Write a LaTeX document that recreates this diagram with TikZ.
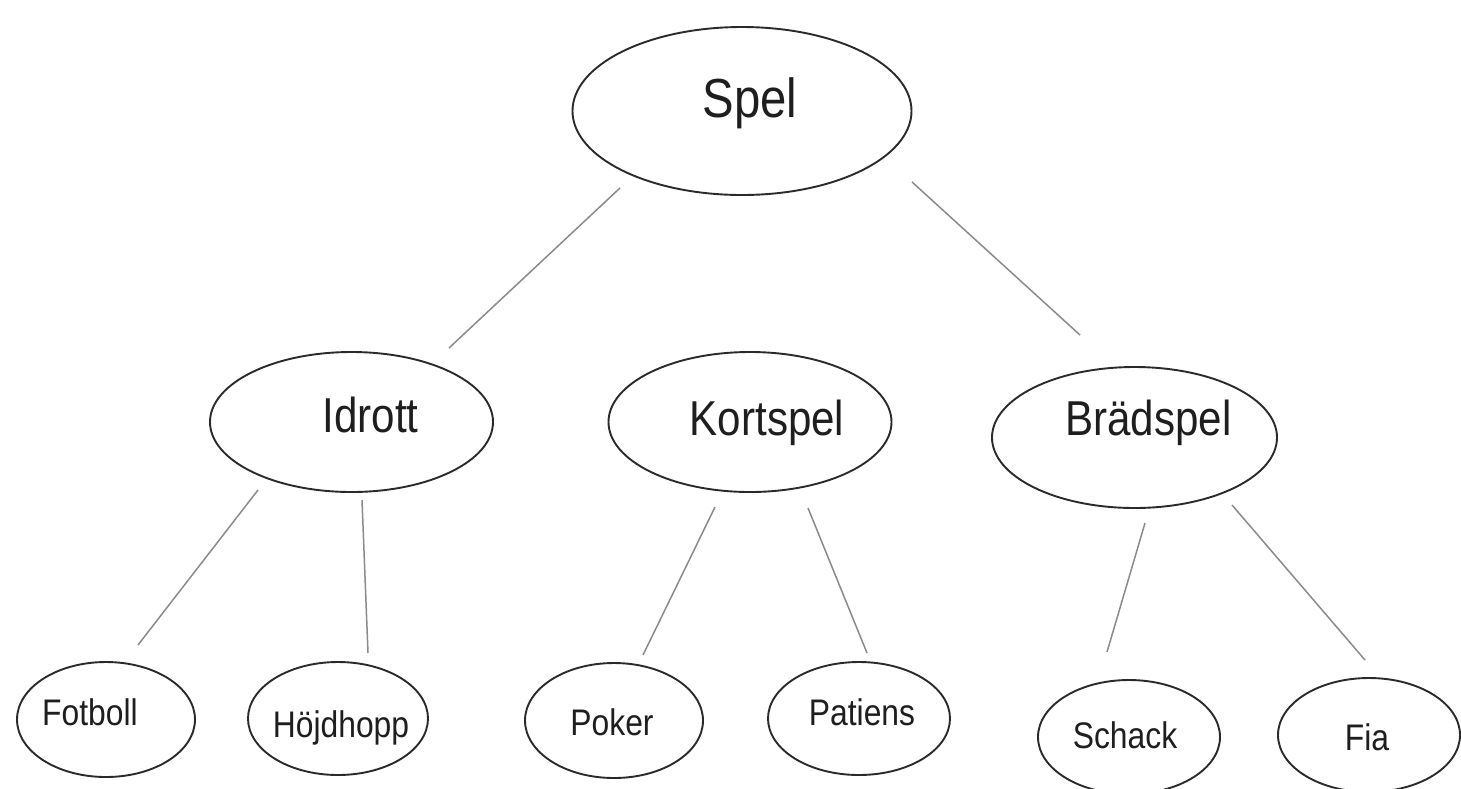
\documentclass[tikz,border=0pt]{standalone}
\usepackage{fontspec}
\setmainfont{Liberation Sans}[FakeStretch=0.86]
\usetikzlibrary{shapes.geometric}
\definecolor{outl}{HTML}{2A2A2A}
\definecolor{conn}{HTML}{8A8A8A}
\definecolor{txt}{HTML}{1E1E1E}
\tikzset{
  oval/.style={ellipse, draw=outl, line width=1.9pt, inner sep=0pt},
  bigoval/.style={oval, minimum width=339pt, minimum height=168pt},
  midoval/.style={oval, minimum width=283pt, minimum height=140pt},
  smalloval/.style={oval, minimum width=179pt, minimum height=114pt},
  toptext/.style={text=txt, anchor=base, inner sep=0pt, font=\fontsize{55}{60}\selectfont},
  midtext/.style={text=txt, anchor=base, inner sep=0pt, font=\fontsize{49}{56}\selectfont},
  smalltext/.style={text=txt, anchor=base, inner sep=0pt, font=\fontsize{37}{42}\selectfont},
  link/.style={draw=conn, line width=1.5pt}
}
\begin{document}
\begin{tikzpicture}[x=1pt, y=-1pt]
\useasboundingbox (0,0) rectangle (1461,788);

% ovals
\node[bigoval] (spel) at (742,111) {};
\node[midoval] (idrott) at (351.5,422) {};
\node[midoval] (kort) at (750,422) {};
\node[midoval, minimum width=285pt, minimum height=141pt] (brad) at (1134.5,437.5) {};
\node[smalloval, minimum width=178pt, minimum height=115pt] (fot) at (106,719.5) {};
\node[smalloval, minimum width=180pt, minimum height=113pt] (hoj) at (338,718.5) {};
\node[smalloval, minimum width=178pt, minimum height=115pt] (poker) at (614,720.5) {};
\node[smalloval, minimum width=182pt, minimum height=113pt] (pat) at (859,718.5) {};
\node[smalloval, minimum width=182pt, minimum height=114pt] (schack) at (1129,737) {};
\node[smalloval, minimum width=182pt, minimum height=114pt] (fia) at (1369,735) {};

% texts (baseline placed relative to each oval)
\node[toptext] (spel-t) at ([shift={(8,6)}]spel.center) {Spel};
\node[midtext] (idrott-t) at ([shift={(19,10)}]idrott.center) {Idrott};
\node[midtext] (kort-t) at ([shift={(17,13)}]kort.center) {Kortspel};
\node[midtext] (brad-t) at ([shift={(14,-2)}]brad.center) {Brädspel};
\node[smalltext] (fot-t) at ([shift={(-16,5.5)}]fot.center) {Fotboll};
\node[smalltext] (hoj-t) at ([shift={(3,18.5)}]hoj.center) {Höjdhopp};
\node[smalltext] (poker-t) at ([shift={(-2,14.5)}]poker.center) {Poker};
\node[smalltext] (pat-t) at ([shift={(3,6.5)}]pat.center) {Patiens};
\node[smalltext] (schack-t) at ([shift={(-4,11)}]schack.center) {Schack};
\node[smalltext] (fia-t) at ([shift={(-2,15)}]fia.center) {Fia};

% connectors
\draw[link] ([shift={(-122,77)}]spel.center) -- ([shift={(97.5,-74)}]idrott.center);
\draw[link] ([shift={(170,71)}]spel.center) -- ([shift={(-54.5,-102.5)}]brad.center);
\draw[link] ([shift={(-93.5,68)}]idrott.center) -- ([shift={(32,-74.5)}]fot.center);
\draw[link] ([shift={(10.5,78)}]idrott.center) -- ([shift={(30,-65.5)}]hoj.center);
\draw[link] ([shift={(-35,85)}]kort.center) -- ([shift={(29,-65.5)}]poker.center);
\draw[link] ([shift={(58,86)}]kort.center) -- ([shift={(8,-65.5)}]pat.center);
\draw[link] ([shift={(10.5,85.5)}]brad.center) -- ([shift={(-22,-85)}]schack.center);
\draw[link] ([shift={(97.5,67.5)}]brad.center) -- ([shift={(-4,-75)}]fia.center);
\end{tikzpicture}
\end{document}
